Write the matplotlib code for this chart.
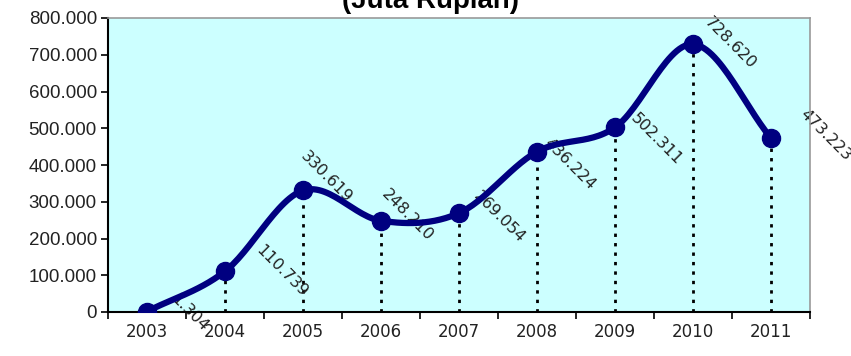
import numpy as np
import matplotlib.pyplot as plt

# Yearly values (juta rupiah)
years = ['2003', '2004', '2005', '2006', '2007', '2008', '2009', '2010', '2011']
values = [1.304, 110.739, 330.619, 248.210, 269.054, 436.224, 502.311, 728.620, 473.223]
value_labels = ['1.304', '110.739', '330.619', '248.210', '269.054',
                '436.224', '502.311', '728.620', '473.223']
yticks = [0, 100, 200, 300, 400, 500, 600, 700, 800]
ytick_labels = ['0', '100.000', '200.000', '300.000', '400.000',
                '500.000', '600.000', '700.000', '800.000']


def smooth_curve(x, y, steps=30):
    '''Catmull-Rom style smoothing, like a spreadsheet "smoothed line".'''
    x = np.asarray(x, float)
    y = np.asarray(y, float)
    px = np.concatenate([[2 * x[0] - x[1]], x, [2 * x[-1] - x[-2]]])
    py = np.concatenate([[2 * y[0] - y[1]], y, [2 * y[-1] - y[-2]]])
    xs, ys = [], []
    t = np.linspace(0, 1, steps)
    for i in range(1, len(px) - 2):
        # bezier control points from neighbours
        b0x, b0y = px[i], py[i]
        b1x, b1y = px[i] + (px[i + 1] - px[i - 1]) / 6, py[i] + (py[i + 1] - py[i - 1]) / 6
        b2x, b2y = px[i + 1] - (px[i + 2] - px[i]) / 6, py[i + 1] - (py[i + 2] - py[i]) / 6
        b3x, b3y = px[i + 1], py[i + 1]
        xs.append((1 - t)**3 * b0x + 3 * (1 - t)**2 * t * b1x + 3 * (1 - t) * t**2 * b2x + t**3 * b3x)
        ys.append((1 - t)**3 * b0y + 3 * (1 - t)**2 * t * b1y + 3 * (1 - t) * t**2 * b2y + t**3 * b3y)
    return np.concatenate(xs), np.concatenate(ys)


fig = plt.figure(figsize=(8.51, 3.56), dpi=100)
ax = fig.add_axes([108 / 851, 1 - 312 / 356, (810 - 108) / 851, (312 - 18) / 356])
ax.set_facecolor('#CCFFFF')

xpos = np.arange(len(years))

# dotted drop lines from each point to the axis
for xi, v in zip(xpos, values):
    ax.plot([xi, xi], [0, v], color='black', ls=(0, (1.2, 2.2)), lw=2, zorder=2)

sx, sy = smooth_curve(xpos, values)
ax.plot(sx, sy, color='#000080', lw=4.5, solid_capstyle='round', zorder=3)
ax.plot(xpos, values, 'o', color='#000080', ms=13, zorder=4)

# rotated value labels, centre offsets in pixels (right, down)
offsets_px = [(43, 1), (57, 0), (23, -13), (26, -6), (40, 4),
              (33, 12), (41, 12), (37, -1), (55, -3)]
for xi, v, lab, (dx, dy) in zip(xpos, values, value_labels, offsets_px):
    ax.annotate(lab, (xi, v), xytext=(dx * 0.72, -dy * 0.72), textcoords='offset points',
                rotation=-45, rotation_mode='anchor', ha='center', va='center',
                fontsize=11.5, family='DejaVu Sans', color='#222222', zorder=2.5,
                annotation_clip=False)

ax.set_xlim(-0.5, 8.5)
ax.set_ylim(0, 800)
ax.set_xticks(xpos)
ax.set_xticklabels(years, fontsize=12, family='DejaVu Sans', color='#222222')
ax.set_xticks(np.arange(-0.5, 9, 1), minor=True)
ax.tick_params(axis='x', which='major', length=0, pad=8)
ax.tick_params(axis='x', which='minor', length=5, width=1.2, direction='out')
ax.set_yticks(yticks)
ax.set_yticklabels(ytick_labels, fontsize=13.5, family='Liberation Sans', color='#222222')
ax.tick_params(axis='y', length=5, width=1.2, direction='out', pad=3)

for side in ['top', 'right']:
    ax.spines[side].set_color('#999999')
    ax.spines[side].set_linewidth(1.2)
for side in ['left', 'bottom']:
    ax.spines[side].set_color('black')
    ax.spines[side].set_linewidth(1.5)

fig.text(431 / 851, 1 - 8.5 / 356, '(Juta Rupiah)', ha='center', va='baseline',
         fontsize=20, fontweight='bold', family='Liberation Sans')

fig.savefig('out.png', dpi=100)
